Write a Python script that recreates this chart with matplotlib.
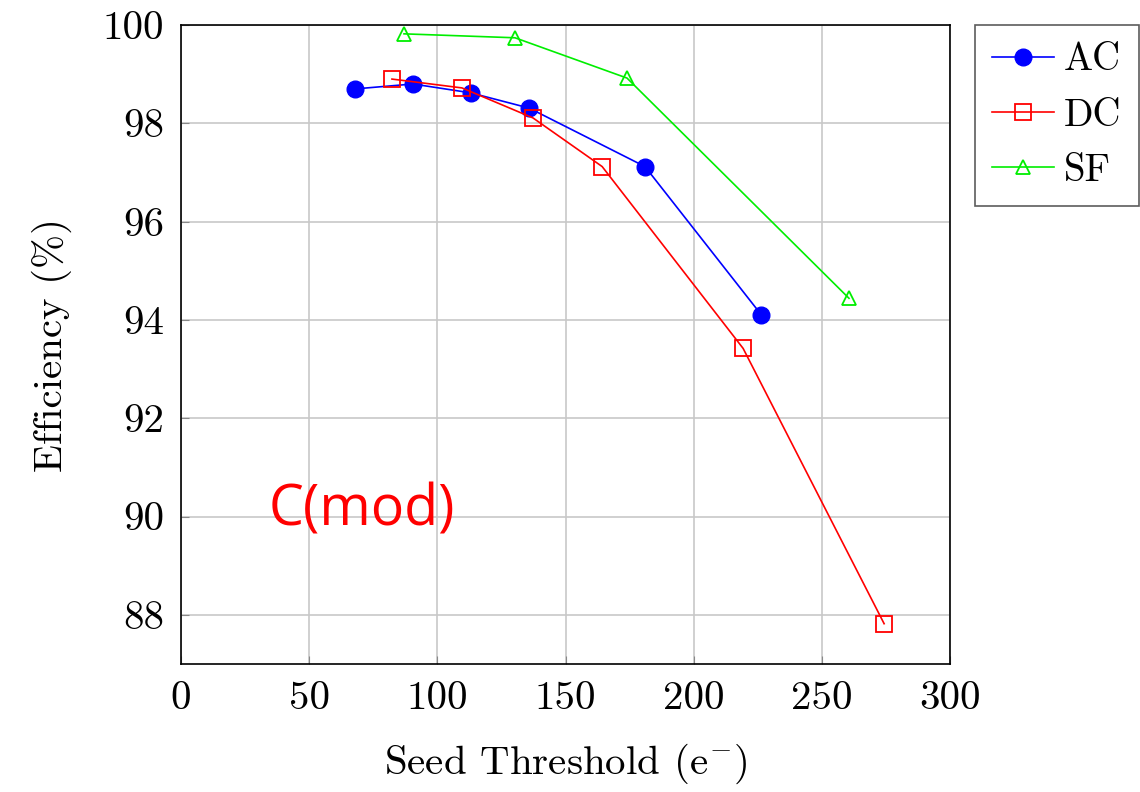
import matplotlib
matplotlib.use("Agg")
import matplotlib.pyplot as plt

plt.rcParams['font.family'] = ['cmr10']
plt.rcParams['mathtext.fontset'] = 'cm'
plt.rcParams['axes.formatter.use_mathtext'] = True
plt.rcParams['axes.unicode_minus'] = False

ac_x = [68, 90.5, 113, 135.8, 181, 226.3]
ac_y = [98.70, 98.80, 98.62, 98.31, 97.12, 94.11]
dc_x = [82.3, 109.6, 137.3, 164.3, 219.3, 274.3]
dc_y = [98.90, 98.72, 98.11, 97.12, 93.42, 87.82]
sf_x = [87, 130.3, 174, 260.6]
sf_y = [99.82, 99.74, 98.92, 94.44]
xticks = [0, 50, 100, 150, 200, 250, 300]
yticks = [88, 90, 92, 94, 96, 98, 100]

fig = plt.figure(figsize=(11.4, 7.92), dpi=100)
ax = fig.add_axes([181/1140, 1-664/792, (950-181)/1140, (664-25)/792])

ax.plot(ac_x, ac_y, color='blue', lw=1.2, marker='o', ms=12, mfc='blue', mec='blue', label='AC')
ax.plot(dc_x, dc_y, color='red', lw=1.2, marker='s', ms=11.5, mfc='none', mec='red', mew=1.3, label='DC')
ax.plot(sf_x, sf_y, color='#00ee00', lw=1.2, marker='^', ms=10, mfc='none', mec='#00ee00', mew=1.3, label='SF')

ax.set_xlim(0, 300)
ax.set_ylim(87, 100)
ax.set_xticks(xticks)
ax.set_yticks(yticks)
ax.set_xticklabels([str(t) for t in xticks])
ax.set_yticklabels([str(t) for t in yticks])
ax.grid(True, color='#c8c8c8', lw=1.2)
ax.set_axisbelow(True)
ax.tick_params(direction='in', length=6, color='#888888', labelsize=29.5, pad=12)
for s in ax.spines.values():
    s.set_linewidth(1.2)

ax.set_xlabel(r'Seed Threshold (e$^{-}$)', fontsize=29.5, labelpad=18)
ax.set_ylabel('Efficiency (%)', fontsize=29.5, labelpad=22)

ax.text(34, 90.12, 'C(mod)', color='red', fontsize=40, family=['Open Sans'], va='center', ha='left')

leg = ax.legend(loc='upper left', bbox_to_anchor=(1.032, 1.0), fontsize=28, frameon=True,
                fancybox=False, edgecolor='#333333', handlelength=1.6, borderpad=0.45,
                labelspacing=0.5, handletextpad=0.25, borderaxespad=0)
leg.get_frame().set_linewidth(1.2)

fig.savefig('out.png', dpi=100)
